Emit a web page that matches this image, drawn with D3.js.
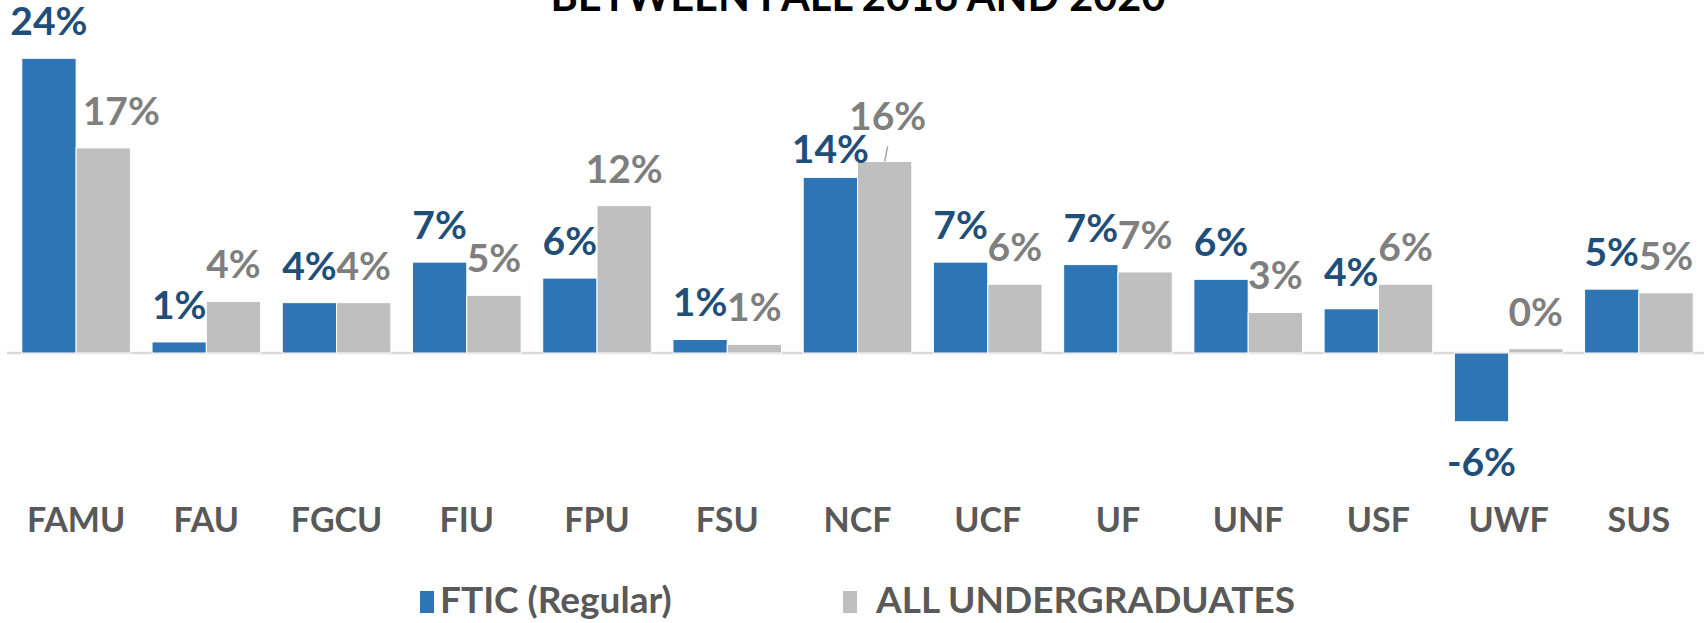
<!DOCTYPE html>
<html>
<head>
<meta charset="utf-8">
<script src="https://cdn.jsdelivr.net/npm/d3@7"></script>
<style>
  html, body { margin: 0; padding: 0; background: #fff; }
  svg { display: block; }
  text { font-family: Lato, "Open Sans", sans-serif; font-weight: bold; }
</style>
</head>
<body>
<svg id="chart" width="1704" height="623"></svg>
<script>
const titleText = "BETWEEN FALL 2016 AND 2020";
const categories = ["FAMU","FAU","FGCU","FIU","FPU","FSU","NCF","UCF","UF","UNF","USF","UWF","SUS"];
const seriesNames = ["FTIC (Regular)", "ALL UNDERGRADUATES"];
const fticValues = [24.0, 0.9, 4.1, 7.4, 6.1, 1.1, 14.3, 7.4, 7.2, 6.0, 3.6, -5.6, 5.2];
const allUgValues = [16.7, 4.2, 4.1, 4.7, 12.0, 0.7, 15.6, 5.6, 6.6, 3.3, 5.6, 0.35, 4.9];
const valueLabelsFtic = ["24%","1%","4%","7%","6%","1%","14%","7%","7%","6%","4%","-6%","5%"];
const valueLabelsAll = ["17%","4%","4%","5%","12%","1%","16%","6%","7%","3%","6%","0%","5%"];

const colors = ["#2E75B6", "#BFBFBF"];
const labelColors = ["#1F4E79", "#7F7F7F"];

const svg = d3.select("#chart");
const W = 1704, H = 623;

const x0 = d3.scaleBand().domain(categories).range([11, 1704]).paddingInner(0.166).paddingOuter(0.083);
const x1 = d3.scaleBand().domain([0, 1]).range([0, x0.bandwidth()]);
const y = d3.scaleLinear().domain([-6, 24]).range([353 + 6 * 12.28, 353 - 24 * 12.28]);

const rows = categories.map((c, i) => ({ cat: c, vals: [fticValues[i], allUgValues[i]], labels: [valueLabelsFtic[i], valueLabelsAll[i]] }));

// title (cropped at top, as in the source image)
svg.append("text")
  .attr("x", 858).attr("y", 11)
  .attr("text-anchor", "middle")
  .attr("font-size", 41.5)
  .attr("fill", "#000")
  .text(titleText);

// zero axis line
svg.append("line")
  .attr("x1", 7).attr("x2", W)
  .attr("y1", y(0)).attr("y2", y(0))
  .attr("stroke", "#D9D9D9").attr("stroke-width", 2.5);

const g = svg.selectAll("g.grp").data(rows).join("g")
  .attr("class", "grp")
  .attr("transform", d => `translate(${x0(d.cat)},0)`);

g.selectAll("rect").data(d => d.vals.map((v, s) => ({ v, s }))).join("rect")
  .attr("x", d => x1(d.s))
  .attr("width", x1.bandwidth())
  .attr("y", d => Math.min(y(d.v), y(0)))
  .attr("height", d => Math.abs(y(d.v) - y(0)))
  .attr("fill", d => colors[d.s])
  .attr("stroke", "#fff").attr("stroke-width", 1);

// label position tweaks (manual Excel-style placements)
const labelShift = { "FAMU-1": [18, 0], "NCF-1": [3, -8], "NCF-0": [0, 9] };

g.each(function(d) {
  const grp = d3.select(this);
  d.vals.forEach((v, s) => {
    const cx = x1(s) + x1.bandwidth() / 2;
    const sh = labelShift[d.cat + "-" + s] || [0, 0];
    const by = v >= 0 ? y(v) - 23 : y(v) + 54;
    grp.append("text")
      .attr("x", cx + sh[0]).attr("y", by + sh[1])
      .attr("text-anchor", "middle")
      .attr("font-size", 39)
      .attr("fill", labelColors[s])
      .text(d.labels[s]);
    if (d.cat === "NCF" && s === 1) {
      grp.append("line")
        .attr("x1", cx + 3).attr("y1", y(v) - 15)
        .attr("x2", cx).attr("y2", y(v))
        .attr("stroke", "#A6A6A6").attr("stroke-width", 1.5);
    }
  });
});

// category labels
const xAxis = d3.axisBottom(x0).tickSize(0).tickPadding(0);
const ax = svg.append("g").attr("transform", "translate(0,532)").call(xAxis);
ax.select(".domain").remove();
ax.selectAll("text")
  .attr("dy", 0)
  .attr("y", 0)
  .attr("font-size", 34)
  .attr("font-family", "Lato, sans-serif")
  .attr("font-weight", "bold")
  .attr("fill", "#595959");

// legend
const legendX = [420, 843];
const lg = svg.selectAll("g.leg").data(seriesNames).join("g").attr("class", "leg")
  .attr("transform", (d, i) => `translate(${legendX[i]},0)`);
lg.append("rect").attr("x", 0).attr("y", 591).attr("width", 14).attr("height", 22)
  .attr("fill", (d, i) => colors[i]);
lg.append("text").attr("x", (d, i) => i === 0 ? 20 : 33).attr("y", 613)
  .attr("font-size", 37).attr("fill", "#595959")
  .text(d => d);
</script>
</body>
</html>
